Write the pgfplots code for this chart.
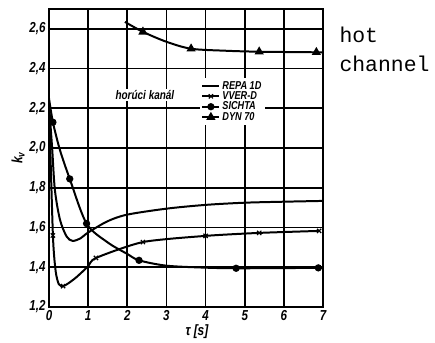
\documentclass[border=0pt]{standalone}
\usepackage{fontspec}
\setmainfont{Liberation Sans}[FakeStretch=0.8]
\newfontfamily\mono{Liberation Mono}
\usepackage{pgfplots}
\pgfplotsset{compat=1.18}
\begin{document}
\begin{tikzpicture}
\begin{axis}[
  scale only axis, width=274bp, height=298bp,
  xmin=0, xmax=7, ymin=1.2, ymax=2.7,
  xtick={0,1,...,7}, ytick={1.2,1.4,...,2.61},
  grid=major, major grid style={black, line width=1.8pt},
  axis line style={black, line width=1.8pt},
  major tick length=0pt,
  /pgf/number format/assume math mode=true,
  tick label style={font=\bfseries\itshape\fontsize{14.5}{14.5}\selectfont},
  x tick label style={/pgf/number format/.cd, fixed, precision=0},
  y tick label style={/pgf/number format/.cd, use comma, fixed, fixed zerofill, precision=1},
  xlabel={\bfseries\itshape τ [s]},
  xlabel style={at={(rel axis cs:0.54,0)}, anchor=north, yshift=-14pt, font=\fontsize{15}{15}\selectfont},
  ylabel={\bfseries\itshape k\textsubscript{v}},
  ylabel style={font=\fontsize{15}{15}\selectfont, yshift=-2pt},
  legend style={at={(axis cs:3.85,2.355)}, anchor=north west, draw=none, fill=white,
    font=\bfseries\itshape\fontsize{11.5}{11.5}\selectfont, row sep=-3pt, inner sep=1.5pt},
  legend cell align=left,
]
% REPA 1D
\addplot[black, line width=2pt, smooth, tension=0.5] coordinates {
 (0,2.22) (0.08,2.0) (0.15,1.79) (0.28,1.64) (0.45,1.555) (0.6,1.533) (0.8,1.545) (1,1.575)
 (1.5,1.632) (2,1.665) (3,1.695) (4,1.714) (5,1.725) (6,1.73) (7,1.734)};
\addlegendentry{REPA 1D}
% VVER-D
\addplot[black, line width=2pt, smooth, tension=0.4, mark=x, mark size=3pt, mark options={line width=1.2pt},
  mark indices={2,5,9,10,11,12,13}] coordinates {
 (0,2.22) (0.1,1.56) (0.17,1.38) (0.25,1.315) (0.36,1.305) (0.5,1.32) (0.7,1.35) (1.0,1.405) (1.2,1.447) (2.4,1.527)
 (4,1.558) (5.37,1.573) (6.9,1.583)};
\addlegendentry{VVER-D}
% SICHTA
\addplot[black, line width=2pt, smooth, tension=0.5, mark=*, mark size=2.6pt,
  mark indices={2,4,5,8,11,13}] coordinates {
 (0,2.25) (0.1,2.13) (0.28,1.99) (0.53,1.845) (0.96,1.62) (1.5,1.525) (2,1.467)
 (2.3,1.435) (3,1.408) (4,1.398) (4.78,1.395) (6,1.396) (6.88,1.397) (7,1.397)};
\addlegendentry{SICHTA}
% DYN 70
\addplot[black, line width=2pt, smooth, tension=0.5, mark=triangle*, mark size=3.4pt,
  mark indices={2,4,6,7}] coordinates {
 (1.94,2.635) (2.4,2.585) (3.0,2.535) (3.63,2.50) (4.5,2.49) (5.37,2.485) (6.83,2.482) (7,2.48)};
\addlegendentry{DYN 70}
\node[fill=white, inner sep=1.5pt, font=\bfseries\itshape\fontsize{12.5}{12.5}\selectfont]
  at (axis cs:2.45,2.268) {horúci kanál};
\end{axis}
\node[anchor=base west, font=\mono\fontsize{21.5}{21.5}\selectfont]
  at ([xshift=13bp,yshift=-34bp]current axis.north east) {hot};
\node[anchor=base west, font=\mono\fontsize{21.5}{21.5}\selectfont]
  at ([xshift=13bp,yshift=-63bp]current axis.north east) {channel};
\path (current axis.south west) ++(-49bp,-35bp);
\path (current axis.north east) ++(112bp,9bp);
\end{tikzpicture}
\end{document}
